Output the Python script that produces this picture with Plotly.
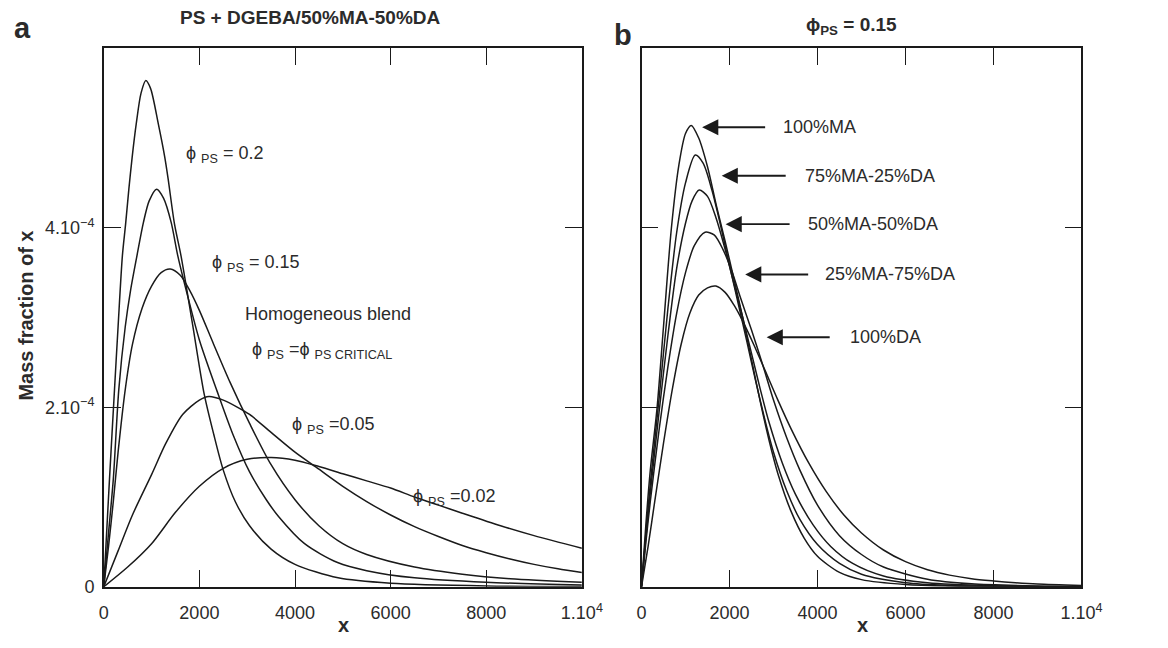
import plotly.graph_objects as go

# ---- panel a: PS + DGEBA/50%MA-50%DA, mass fraction vs x for several phi_PS ----
x_phi020 = [0, 60, 120, 225, 300, 390, 457, 525, 595, 680, 780, 880, 980, 1140, 1275, 1345, 1480, 1615, 1850, 2100, 2300, 2500, 2750, 3050, 3500, 4000, 4900, 6000, 8000, 10000]
y_phi020 = [0, 0.6, 1.2, 2.2, 2.9, 3.69, 4.04, 4.43, 4.79, 5.16, 5.5, 5.64, 5.55, 5.16, 4.79, 4.55, 4.04, 3.69, 2.95, 2.15, 1.7, 1.3, 0.95, 0.68, 0.42, 0.25, 0.1, 0.04, 0.01, 0.003]

x_phi015 = [0, 100, 200, 315, 450, 560, 695, 830, 950, 1105, 1250, 1410, 1548, 1750, 2000, 2370, 2700, 3050, 3400, 3660, 4200, 4890, 5500, 6500, 8000, 10000]
y_phi015 = [0, 0.6, 1.2, 2.2, 2.9, 3.3, 3.69, 4.06, 4.3, 4.43, 4.33, 4.06, 3.69, 3.25, 2.75, 2.18, 1.7, 1.28, 0.97, 0.78, 0.48, 0.27, 0.18, 0.1, 0.05, 0.02]

x_phicrit = [0, 100, 200, 300, 450, 600, 800, 1000, 1200, 1390, 1600, 1800, 2000, 2300, 2640, 3050, 3500, 4000, 4500, 5000, 5500, 6500, 7500, 8500, 10000]
y_phicrit = [0, 0.45, 0.95, 1.5, 2.2, 2.7, 3.1, 3.35, 3.5, 3.54, 3.47, 3.3, 3.08, 2.7, 2.28, 1.82, 1.36, 0.97, 0.68, 0.48, 0.36, 0.22, 0.14, 0.09, 0.05]

x_phi005 = [0, 300, 600, 1000, 1300, 1650, 2000, 2200, 2500, 2800, 3050, 3500, 4000, 4500, 5000, 5500, 6000, 6500, 7000, 7500, 8000, 8500, 9000, 9500, 10000]
y_phi005 = [0, 0.4, 0.8, 1.25, 1.6, 1.92, 2.08, 2.12, 2.08, 2.0, 1.92, 1.72, 1.5, 1.31, 1.12, 0.95, 0.8, 0.67, 0.56, 0.46, 0.38, 0.31, 0.25, 0.2, 0.16]

x_phi002 = [0, 500, 1000, 1500, 2000, 2500, 3000, 3500, 4000, 4500, 5000, 5500, 6000, 6500, 7000, 7500, 8300, 9000, 10000]
y_phi002 = [0, 0.22, 0.48, 0.83, 1.12, 1.32, 1.42, 1.44, 1.41, 1.34, 1.26, 1.18, 1.1, 1.0, 0.91, 0.82, 0.68, 0.57, 0.43]

# ---- panel b: phi_PS = 0.15, different MA/DA ratios ----
x_ma100 = [0, 100, 200, 355, 500, 680, 850, 1000, 1130, 1300, 1500, 1700, 1900, 2100, 2300, 2500, 2700, 2900, 3100, 3400, 3700, 4000, 4500, 5000, 6000, 7000, 8500, 10000]
y_ma100 = [0, 0.7, 1.3, 2.0, 2.9, 4.0, 4.7, 5.05, 5.14, 5.0, 4.68, 4.25, 3.85, 3.43, 3.0, 2.53, 2.06, 1.63, 1.26, 0.84, 0.54, 0.34, 0.16, 0.08, 0.025, 0.008, 0.002, 0]

x_ma75 = [0, 100, 200, 400, 600, 800, 1000, 1222, 1400, 1600, 1800, 2000, 2200, 2400, 2600, 2800, 3000, 3300, 3600, 4000, 4500, 5000, 6000, 7000, 8500, 10000]
y_ma75 = [0, 0.6, 1.15, 2.1, 3.1, 3.95, 4.5, 4.81, 4.72, 4.42, 4.02, 3.58, 3.15, 2.72, 2.28, 1.87, 1.5, 1.07, 0.75, 0.47, 0.26, 0.14, 0.045, 0.015, 0.004, 0.001]

x_ma50 = [0, 100, 200, 400, 600, 800, 1000, 1150, 1311, 1500, 1700, 1900, 2100, 2300, 2500, 2700, 2900, 3200, 3500, 3900, 4300, 4800, 5500, 6500, 8000, 10000]
y_ma50 = [0, 0.55, 1.05, 1.95, 2.8, 3.55, 4.05, 4.3, 4.42, 4.35, 4.1, 3.76, 3.38, 3.0, 2.6, 2.2, 1.83, 1.38, 1.03, 0.69, 0.45, 0.26, 0.12, 0.045, 0.012, 0.002]

x_ma25 = [0, 100, 200, 400, 600, 800, 1000, 1200, 1444, 1650, 1850, 2050, 2250, 2500, 2750, 3000, 3300, 3600, 4000, 4500, 5000, 5500, 6500, 7500, 9000, 10000]
y_ma25 = [0, 0.5, 0.95, 1.75, 2.45, 3.05, 3.5, 3.8, 3.95, 3.92, 3.76, 3.52, 3.22, 2.86, 2.48, 2.08, 1.66, 1.3, 0.91, 0.57, 0.36, 0.22, 0.085, 0.033, 0.009, 0.004]

x_da100 = [0, 150, 300, 500, 700, 900, 1100, 1300, 1500, 1690, 1900, 2100, 2300, 2550, 2800, 3100, 3400, 3800, 4200, 4600, 5000, 5500, 6000, 6500, 7000, 7500, 8000, 8500, 9000, 10000]
y_da100 = [0, 0.45, 0.95, 1.6, 2.2, 2.7, 3.05, 3.25, 3.33, 3.35, 3.28, 3.14, 2.96, 2.7, 2.42, 2.08, 1.76, 1.38, 1.06, 0.8, 0.6, 0.41, 0.28, 0.19, 0.13, 0.09, 0.065, 0.045, 0.03, 0.015]

# axis ticks
x_tickvals = [0, 2000, 4000, 6000, 8000, 10000]
x_ticktext = ["0", "2000", "4000", "6000", "8000", "1.10<sup>4</sup>"]
y_tickvals = [0, 2e-4, 4e-4]
y_ticktext = ["0", "2.10<sup>\u22124</sup>", "4.10<sup>\u22124</sup>"]

# left-panel curve labels: (text, x, y)
left_labels = [
    ("\u03d5 <sub>PS</sub> = 0.2", 1680, 4.82e-4),
    ("\u03d5 <sub>PS</sub> = 0.15", 2230, 3.60e-4),
    ("Homogeneous blend", 2920, 3.04e-4),
    ("\u03d5 <sub>PS</sub> =\u03d5 <sub>PS CRITICAL</sub>", 3050, 2.63e-4),
    ("\u03d5 <sub>PS</sub> =0.05", 3900, 1.80e-4),
    ("\u03d5 <sub>PS</sub> =0.02", 6420, 0.99e-4),
]

# right-panel arrows: (text, tip x, tail x, y, text x)
right_labels = [
    ("100%MA", 1378, 2844, 5.12e-4, 3180),
    ("75%MA-25%DA", 1822, 3311, 4.58e-4, 3670),
    ("50%MA-50%DA", 1911, 3400, 4.04e-4, 3735),
    ("25%MA-75%DA", 2356, 3822, 3.48e-4, 4135),
    ("100%DA", 2844, 4311, 2.78e-4, 4690),
]

FONT = "Liberation Sans, Arial, sans-serif"
INK = "#1a1a1a"
TEXT = "#2b2b2b"

fig = go.Figure()

line = dict(color=INK, width=1.5, shape="spline", smoothing=0.8)
for xs, ys in [(x_phi020, y_phi020), (x_phi015, y_phi015), (x_phicrit, y_phicrit),
               (x_phi005, y_phi005), (x_phi002, y_phi002)]:
    fig.add_trace(go.Scatter(x=xs, y=[v * 1e-4 for v in ys], mode="lines",
                             line=line, xaxis="x", yaxis="y", showlegend=False))
for xs, ys in [(x_ma100, y_ma100), (x_ma75, y_ma75), (x_ma50, y_ma50),
               (x_ma25, y_ma25), (x_da100, y_da100)]:
    fig.add_trace(go.Scatter(x=xs, y=[v * 1e-4 for v in ys], mode="lines",
                             line=line, xaxis="x2", yaxis="y2", showlegend=False))

W, H = 1168, 648
dom_y = [(H - 596) / H, (H - 49) / H]

axis_common = dict(
    showline=True, linecolor=INK, linewidth=1.5, mirror="ticks",
    ticks="inside", ticklen=17, tickwidth=1.2, tickcolor=INK,
    showgrid=False, zeroline=False,
    tickfont=dict(family=FONT, size=18, color=TEXT),
)

fig.update_layout(
    width=W, height=H,
    margin=dict(l=0, r=0, t=0, b=0),
    paper_bgcolor="white", plot_bgcolor="white",
    xaxis=dict(domain=[101 / W, 590 / W], range=[0, 10000],
               tickvals=x_tickvals, ticktext=x_ticktext, anchor="y",
               ticklabelstandoff=9, **axis_common),
    yaxis=dict(domain=dom_y, range=[0, 6.0e-4], tickvals=y_tickvals,
               ticktext=y_ticktext, anchor="x", ticklabelstandoff=4, **axis_common),
    xaxis2=dict(domain=[651 / W, 1101 / W], range=[0, 10000],
                tickvals=x_tickvals, ticktext=x_ticktext, anchor="y2",
                ticklabelstandoff=9, **axis_common),
    yaxis2=dict(domain=dom_y, range=[0, 6.0e-4], tickvals=[2e-4, 4e-4],
                showticklabels=False, anchor="x2", **axis_common),
)


def paper_text(text, px, py, size, angle=0):
    return dict(text=text, x=px / W, y=1 - py / H, xref="paper", yref="paper",
                xanchor="center", yanchor="middle", showarrow=False, textangle=angle,
                font=dict(family=FONT, size=size, color=TEXT))


ann = [
    paper_text("<b>a</b>", 18, 28, 29),
    paper_text("<b>b</b>", 632, 36, 29),
    paper_text("<b>PS + DGEBA/50%MA-50%DA</b>", 312, 18, 19),
    paper_text("<b>\u03d5<sub>PS</sub> = 0.15</b>", 866, 26, 19),
    paper_text("<b>Mass fraction of x</b>", 22, 321, 20, angle=-90),
    paper_text("<b>x</b>", 346, 635, 20),
    paper_text("<b>x</b>", 877, 635, 20),
]

for text, tx, ty in left_labels:
    ann.append(dict(text=text, x=tx, y=ty, xref="x", yref="y", xanchor="left",
                    yanchor="middle", showarrow=False,
                    font=dict(family=FONT, size=18, color=TEXT)))

for text, tip, tail, ty, lx in right_labels:
    ann.append(dict(text="", x=tip, y=ty, xref="x2", yref="y2",
                    ax=tail, ay=ty, axref="x2", ayref="y2",
                    showarrow=True, arrowhead=2, arrowsize=1.7, arrowwidth=1.9,
                    arrowcolor=INK, standoff=0))
    ann.append(dict(text=text, x=lx, y=ty, xref="x2", yref="y2", xanchor="left",
                    yanchor="middle", showarrow=False,
                    font=dict(family=FONT, size=18, color=TEXT)))

fig.update_layout(annotations=ann)
fig.write_html("out.html")
